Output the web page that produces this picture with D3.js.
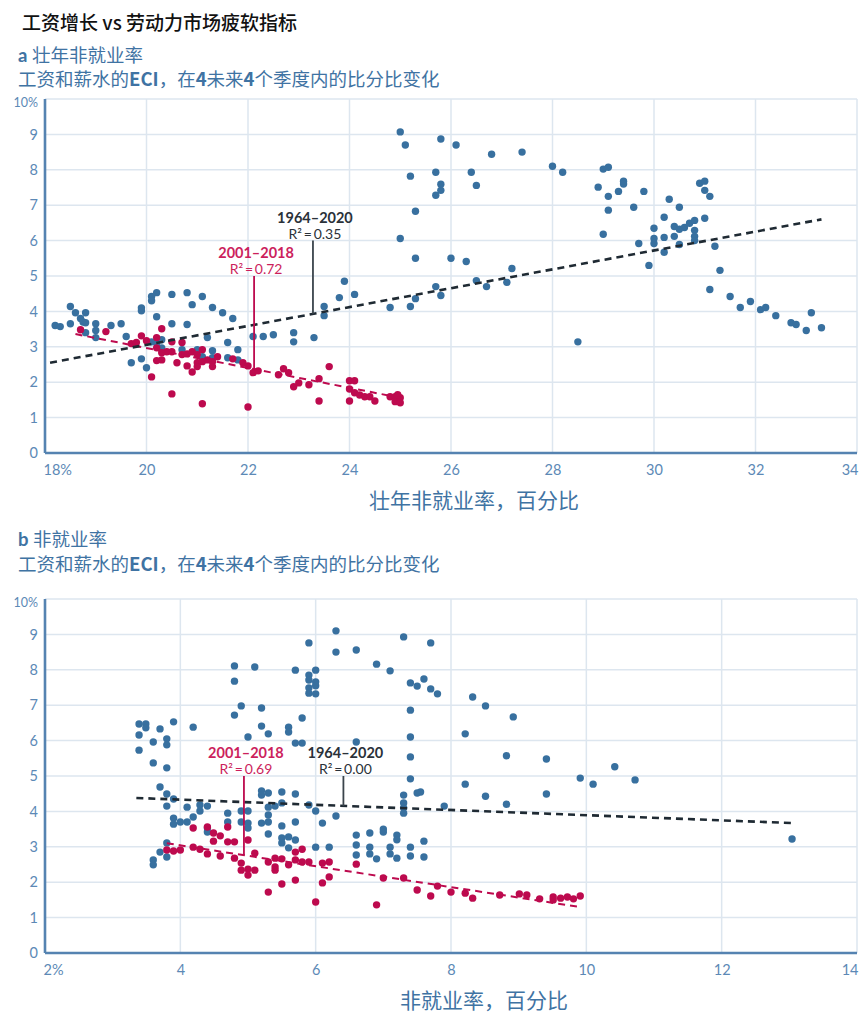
<!DOCTYPE html>
<html><head><meta charset="utf-8">
<script src="https://cdn.jsdelivr.net/npm/d3@7"></script>
<style>body{margin:0;background:#fff}</style>
</head><body><svg id="c" width="860" height="1019"></svg>
<script>
// ---------- text ----------
const chartTitle = "工资增长 vs 劳动力市场疲软指标";
const panelAHead = ["a", "壮年非就业率"];
const panelBHead = ["b", "非就业率"];
const subtitleParts = [["工资和薪水的",0],["ECI",1],["，在",0],["4",1],["未来",0],["4",1],["个季度内的比分比变化",0]];
const xTitleA = "壮年非就业率，百分比";
const xTitleB = "非就业率，百分比";

// ---------- ticks ----------
const yTicks = [0,1,2,3,4,5,6,7,8,9,10];
const xTicksA = [18,20,22,24,26,28,30,32,34];
const xTicksB = [2,4,6,8,10,12,14];

// ---------- panel a data: prime-age non-employment rate vs ECI growth ----------
const aAll = [
[18.2,3.6],[18.3,3.57],[18.5,4.14],[18.5,3.65],[18.6,3.96],[18.7,3.8],[18.75,3.7],[18.8,3.96],[18.8,3.68],[18.8,3.4],
[19.0,3.65],[19.0,3.46],[19.0,3.26],[19.3,3.6],[19.5,3.65],[19.6,3.29],[19.7,2.55],[19.9,4.1],[19.9,4.02],[19.9,2.66],
[20.0,2.41],[20.1,4.42],[20.1,4.3],[20.2,4.53],[20.2,3.85],[20.1,3.14],[20.2,3.1],[20.3,3.2],[20.3,2.97],[20.5,4.48],
[20.5,3.65],[20.8,4.53],[20.9,4.19],[20.8,3.63],[20.7,2.92],[21.1,4.42],[21.0,2.92],[21.1,2.72],[21.2,3.26],[21.3,4.11],
[21.3,2.89],[21.3,2.69],[21.5,3.96],[21.6,3.12],[21.6,2.69],[21.7,3.8],[21.8,2.92],[21.8,2.63],[22.1,3.29],[22.3,3.29],
[22.5,3.34],[22.9,3.4],[22.9,3.14],[23.3,3.26],[23.5,4.14],[23.5,3.88],[23.8,4.39],[23.9,4.85],[24.1,4.48],[24.8,4.11],
[25.2,4.14],[25.3,4.36],
[25.0,9.07],[25.1,8.7],[25.2,7.82],[25.3,6.83],[25.0,6.06],[25.3,5.5],[25.7,4.7],[25.8,4.45],[25.7,7.28],[25.8,7.42],
[25.8,7.59],[25.7,7.93],[25.8,8.87],[26.1,8.7],[26.0,5.5],[26.3,5.41],[26.4,7.93],[26.5,7.56],[26.5,4.87],[26.7,4.7],
[26.8,8.44],[27.1,4.82],[27.2,5.21],[27.4,8.5],[28.0,8.1],[28.2,7.93],[28.5,3.14],[28.9,7.51],[29.0,8.02],[29.1,8.07],
[29.1,7.25],[29.1,6.86],[29.0,6.18],[29.3,7.39],[29.4,7.68],[29.4,7.6],[29.6,6.94],[29.8,7.39],[29.7,5.92],[29.9,5.3],
[30.0,6.35],[30.0,6.06],[30.0,5.92],[30.2,6.66],[30.2,6.09],[30.2,5.67],[30.3,7.17],[30.4,6.4],[30.4,6.12],[30.5,6.94],
[30.5,6.32],[30.5,5.89],[30.6,6.37],[30.7,6.49],[30.8,6.57],[30.8,6.29],[30.8,6.12],[30.8,6.0],[30.9,7.62],[31.0,7.68],
[31.0,7.42],[31.0,6.63],[31.1,7.25],[31.1,4.62],[31.2,5.84],[31.3,5.16],[31.5,4.42],[31.7,4.11],[31.9,4.28],[32.1,4.05],
[32.2,4.11],[32.4,3.88],[32.7,3.68],[32.8,3.63],[33.0,3.46],[33.1,3.96],[33.3,3.54]
];
const aRecent = [
[18.7,3.48],[19.2,3.43],[19.7,3.09],[19.8,3.12],[19.9,3.31],[20.0,3.17],[20.1,2.15],[20.2,3.26],[20.2,2.97],[20.2,2.61],
[20.3,3.51],[20.3,2.83],[20.3,2.63],[20.4,2.86],[20.5,3.14],[20.5,2.86],[20.5,1.67],[20.6,2.55],[20.7,3.12],[20.7,2.78],
[20.8,2.8],[20.8,2.46],[20.9,2.86],[20.9,2.29],[21.0,2.78],[21.0,2.55],[21.0,2.44],[21.1,2.92],[21.1,2.58],[21.1,1.39],
[21.2,2.63],[21.3,2.58],[21.3,2.44],[21.4,2.72],[21.7,2.66],[21.9,2.55],[22.0,2.46],[22.0,1.3],[22.1,2.27],[22.2,2.32],
[22.6,2.21],[22.7,2.38],[22.8,2.27],[22.9,1.87],[23.0,1.98],[23.2,1.93],[23.4,2.1],[23.4,1.47],[23.6,2.44],[24.0,2.04],
[24.1,2.04],[24.0,1.81],[24.0,1.47],[24.1,1.7],[24.2,1.64],[24.3,1.59],[24.4,1.59],[24.5,1.47],[24.8,1.59],[24.9,1.59],
[24.9,1.45],[25.0,1.56],[25.0,1.42],[24.95,1.65]
];
const aFitAll = [[18.1,2.55],[33.3,6.6]];
const aFitRecent = [[18.6,3.36],[25.0,1.56]];

// ---------- panel b data: unemployment rate vs ECI growth ----------
const bAll = [
[3.39,6.47],[3.39,6.16],[3.39,5.73],[3.49,6.47],[3.49,6.36],[3.6,5.96],[3.6,5.37],[3.7,6.33],[3.8,6.05],[3.8,5.88],
[3.8,5.23],[3.7,4.69],[3.9,6.53],[4.19,6.38],[4.8,8.11],[4.8,7.68],[4.8,6.72],[4.9,6.98],[5.0,6.1],[5.1,8.08],
[5.2,6.92],[5.2,6.41],[5.3,6.19],[5.6,6.38],[5.6,6.24],[5.7,7.99],[5.7,5.93],[5.8,6.64],[5.8,5.93],[5.9,8.76],
[5.9,7.85],[5.9,7.71],[5.9,7.49],[5.9,7.34],[6.0,7.99],[6.0,7.66],[6.0,7.55],[6.0,7.32],[6.3,9.1],[6.3,8.5],
[6.6,8.56],[6.6,5.96],[6.9,8.16],[7.1,7.97],[7.3,8.93],[7.4,7.63],[7.4,6.86],[7.4,6.1],[7.4,5.54],[7.4,4.92],
[7.5,7.54],[7.6,7.74],[7.7,8.76],[7.7,7.46],[7.8,7.32],
[8.32,7.23],[8.51,6.98],[8.92,6.67],[8.21,6.19],[8.82,5.57],[9.41,5.48],[9.91,4.94],[10.1,4.77],[10.42,5.26],[10.72,4.89],
[8.21,4.77],[8.51,4.43],[8.82,4.2],[9.41,4.49],[7.9,4.15],[13.04,3.22],[7.55,4.55],
[3.8,4.49],[3.8,4.15],[3.9,4.35],[3.9,3.81],[3.9,3.64],[4.0,3.7],[4.1,4.12],[4.1,3.7],[4.19,3.84],[4.29,4.18],
[4.29,4.01],[4.4,4.15],[4.4,3.53],[4.4,3.42],[4.7,3.95],[4.7,3.7],[4.9,4.01],[4.9,3.7],[5.0,4.01],[5.0,3.67],
[5.0,3.53],[5.2,4.58],[5.2,4.46],[5.2,3.67],[5.3,4.52],[5.3,4.12],[5.3,3.9],[5.3,3.7],[5.3,3.36],[5.4,4.15],
[5.5,4.55],[5.5,4.24],[5.5,3.59],[5.5,3.25],[5.5,3.11],[5.6,3.28],[5.6,2.97],[5.7,4.49],[5.7,3.7],[5.7,3.19],
[5.9,4.18],[6.0,4.01],[6.0,2.99],[6.1,3.67],[6.2,2.99],[6.3,3.87],[6.6,3.33],[6.6,3.05],[6.6,2.77],[6.8,3.39],
[6.8,2.99],[6.8,2.8],[6.9,2.66],[7.0,3.5],[7.0,3.42],[7.1,2.99],[7.1,2.8],[7.2,3.33],[7.2,3.2],[7.2,2.68],
[7.3,4.46],[7.3,4.24],[7.3,4.1],[7.3,3.95],[7.4,2.99],[7.4,2.74],[7.5,4.52],[7.6,3.16],[7.6,2.71],
[3.6,2.63],[3.6,2.49],[3.7,2.85],[3.8,3.11],[3.8,2.71]
];
const bRecent = [
[3.8,2.91],[3.9,2.88],[4.0,2.91],[4.19,3.53],[4.19,2.99],[4.29,2.93],[4.4,2.8],[4.4,3.56],[4.49,3.39],[4.49,3.16],
[4.59,3.31],[4.59,2.74],[4.7,3.56],[4.7,3.14],[4.8,3.14],[4.8,2.68],[4.9,2.54],[4.9,2.34],[5.0,3.19],[5.0,2.37],
[5.0,2.2],[5.1,2.82],[5.1,2.34],[5.3,2.57],[5.3,1.72],[5.4,2.68],[5.4,2.43],[5.4,2.34],[5.5,2.66],[5.5,1.95],
[5.6,2.49],[5.7,2.85],[5.7,2.63],[5.7,2.06],[5.8,2.93],[5.8,2.57],[5.9,2.57],[6.0,1.44],[6.1,2.54],[6.1,1.98],
[6.2,2.57],[6.2,2.15],[6.6,2.51],[6.9,1.36],[7.0,2.12],[7.3,2.12],[7.5,1.78],[7.7,1.61],[7.8,1.89],
[8.0,1.72],[8.21,1.69],[8.32,1.55],[8.72,1.64],[9.01,1.67],[9.12,1.64],[9.31,1.53],[9.51,1.58],[9.51,1.5],[9.62,1.55],
[9.72,1.58],[9.81,1.53],[9.91,1.61]
];
const bFitAll = [[3.35,4.38],[13.05,3.67]];
const bFitRecent = [[3.8,3.1],[9.9,1.3]];

// ---------- annotations ----------
const aNotes = [
  {period:"1964–2020", r2:"0.35", x:23.28, top:6.0, fit:"all"},
  {period:"2001–2018", r2:"0.72", x:22.12, top:5.0, fit:"recent"}
];
const bNotes = [
  {period:"2001–2018", r2:"0.69", x:4.94, top:5.0, fit:"recent"},
  {period:"1964–2020", r2:"0.00", x:6.41, top:5.0, fit:"all"}
];

// ---------- styles ----------
const C = {
  blue:"#38709f", red:"#bd0a4e", redText:"#cc1f5d", dark:"#1f2a33", noteDark:"#2a3139",
  head:"#3f73a3", tick:"#5c89b6", axis:"#5583b1", grid:"#dde6ef"
};
const FONT = "Lato, 'Noto Sans CJK SC', sans-serif";
const CJK = "'Noto Sans CJK SC', sans-serif";

const svg = d3.select("#c");

svg.append("text").attr("x",22).attr("y",30)
  .attr("font-family",CJK).attr("font-size",19).attr("font-weight",500).attr("fill","#111")
  .text(chartTitle);

function heading(head, y1, y2){
  const t = svg.append("text").attr("x",18).attr("y",y1)
    .attr("font-family",CJK).attr("font-size",18.5).attr("fill",C.head);
  t.append("tspan").attr("font-weight",700).attr("font-family",FONT).text(head[0]+" ");
  t.append("tspan").text(head[1]);
  const s = svg.append("text").attr("x",18).attr("y",y2)
    .attr("font-family",CJK).attr("font-size",18.5).attr("fill",C.head);
  subtitleParts.forEach(p=>{
    s.append("tspan").attr("font-weight",p[1]?700:400).text(p[0]);
  });
}

function panel(cfg){
  const x = d3.scaleLinear().domain(cfg.xDomain).range([45,857]);
  const y = d3.scaleLinear().domain([0,10]).range([cfg.y0, cfg.y0-354]);
  const g = svg.append("g");

  // grid
  g.append("g").selectAll("line").data(yTicks).join("line")
    .attr("x1",45).attr("x2",857).attr("y1",d=>y(d)).attr("y2",d=>y(d))
    .attr("stroke",C.grid).attr("stroke-width",1.5);
  g.append("g").selectAll("line").data(cfg.xTicks).join("line")
    .attr("y1",y(0)).attr("y2",y(10)).attr("x1",d=>x(d)).attr("x2",d=>x(d))
    .attr("stroke",C.grid).attr("stroke-width",1.5);

  // axes via d3 axis generators
  const ya = g.append("g").attr("transform","translate(45,0)")
    .call(d3.axisLeft(y).tickValues(yTicks).tickSize(0).tickPadding(7)
      .tickFormat(d=>d===10?"10%":d));
  const xa = g.append("g").attr("transform",`translate(0,${y(0)})`)
    .call(d3.axisBottom(x).tickValues(cfg.xTicks).tickSize(0).tickPadding(12)
      .tickFormat((d,i)=>i===0?d+"%":d));
  [ya,xa].forEach(a=>{
    a.select(".domain").attr("stroke",C.axis).attr("stroke-width",2.6);
    a.selectAll("text").attr("fill",C.tick).attr("font-family",FONT).attr("font-size",14.5);
  });
  ya.selectAll(".tick text").filter(d=>d===10).attr("font-size",12.5).attr("dy","0.6em");
  const nX = cfg.xTicks.length;
  xa.selectAll(".tick text").filter((d,i)=>i===0).attr("text-anchor","start").attr("dx",-2);
  xa.selectAll(".tick text").filter((d,i)=>i===nX-1).attr("text-anchor","end").attr("dx",1);
  ya.select(".domain").attr("d",`M0,${y(0)}V${y(10)}`);
  xa.select(".domain").attr("d",`M45,0H857`);

  // points
  g.append("g").selectAll("circle").data(cfg.all).join("circle")
    .attr("cx",d=>x(d[0])).attr("cy",d=>y(d[1])).attr("r",3.7).attr("fill",C.blue);
  g.append("g").selectAll("circle").data(cfg.recent).join("circle")
    .attr("cx",d=>x(d[0])).attr("cy",d=>y(d[1])).attr("r",3.7).attr("fill",C.red);

  // fitted lines
  const line = d3.line().x(d=>x(d[0])).y(d=>y(d[1]));
  g.append("path").attr("d",line(cfg.fitRecent)).attr("fill","none")
    .attr("stroke",C.red).attr("stroke-width",2).attr("stroke-dasharray","7,5");
  g.append("path").attr("d",line(cfg.fitAll)).attr("fill","none")
    .attr("stroke",C.dark).attr("stroke-width",2.6).attr("stroke-dasharray","7,5");

  // annotations
  const fitAt = (f,xv)=> f[0][1] + (xv-f[0][0])*(f[1][1]-f[0][1])/(f[1][0]-f[0][0]);
  cfg.notes.forEach(n=>{
    const f = n.fit==="all"?cfg.fitAll:cfg.fitRecent;
    const col = n.fit==="all"?C.noteDark:C.redText;
    const lc = n.fit==="all"?"#3b444c":C.red;
    const px = x(n.x), pt = y(n.top);
    g.append("line").attr("x1",px).attr("x2",px).attr("y1",pt).attr("y2",y(fitAt(f,n.x)))
      .attr("stroke",lc).attr("stroke-width",1.8);
    g.append("text").attr("x",px+2).attr("y",pt-18).attr("text-anchor","middle")
      .attr("font-family",FONT).attr("font-size",14.5).attr("font-weight",700).attr("fill",col)
      .text(n.period);
    g.append("text").attr("x",px+2).attr("y",pt-2).attr("text-anchor","middle")
      .attr("font-family",FONT).attr("font-size",14).attr("fill",col)
      .text("R²\u2009=\u2009"+n.r2);
  });

  // x title
  g.append("text").attr("x",cfg.titleX).attr("y",cfg.y0+55).attr("text-anchor","middle")
    .attr("font-family",CJK).attr("font-size",21).attr("fill",C.head).text(cfg.xTitle);
}

heading(panelAHead, 62, 86);
panel({xDomain:[18,34], xTicks:xTicksA, y0:453, all:aAll, recent:aRecent,
  fitAll:aFitAll, fitRecent:aFitRecent, notes:aNotes, xTitle:xTitleA, titleX:474});
heading(panelBHead, 546, 571);
panel({xDomain:[2,14], xTicks:xTicksB, y0:953, all:bAll, recent:bRecent,
  fitAll:bFitAll, fitRecent:bFitRecent, notes:bNotes, xTitle:xTitleB, titleX:484});
</script></body></html>
